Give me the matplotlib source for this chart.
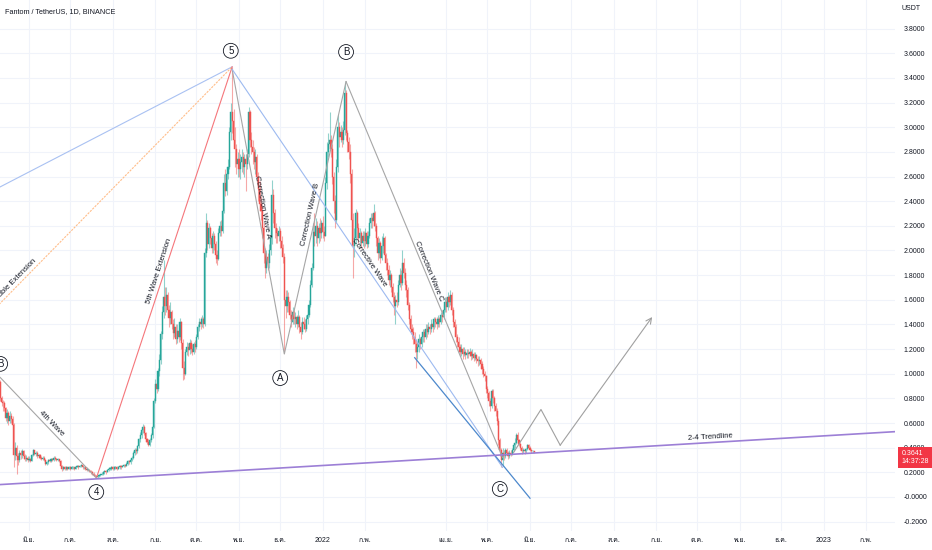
import numpy as np
import pandas as pd
import matplotlib
matplotlib.use("Agg")
import matplotlib.pyplot as plt
import matplotlib.dates as mdates
from matplotlib import font_manager
from matplotlib.ft2font import FT2Font

# ---- daily candles FTM/USDT, first candle 2021-05-11 (open = previous close)
first_open = 0.93
closes_2021_05 = [0.80, 0.77, 0.76, 0.72, 0.64, 0.68, 0.62, 0.66, 0.63, 0.58, 0.34, 0.40, 0.33, 0.30, 0.36, 0.34, 0.37, 0.33, 0.31, 0.32, 0.30]
highs_2021_05 = [0.95, 0.82, 0.79, 0.78, 0.73, 0.71, 0.70, 0.70, 0.68, 0.66, 0.60, 0.45, 0.42, 0.36, 0.38, 0.38, 0.39, 0.38, 0.35, 0.34, 0.33]
lows_2021_05 = [0.78, 0.74, 0.70, 0.70, 0.62, 0.60, 0.58, 0.60, 0.60, 0.55, 0.24, 0.30, 0.19, 0.26, 0.28, 0.31, 0.32, 0.31, 0.29, 0.29, 0.28]

closes_2021_06 = [0.31, 0.29, 0.34, 0.38, 0.35, 0.36, 0.33, 0.34, 0.32, 0.31, 0.32, 0.30, 0.27, 0.28, 0.30, 0.29, 0.31, 0.30, 0.32, 0.31, 0.30, 0.31, 0.29, 0.25, 0.23, 0.24, 0.23, 0.24, 0.23, 0.24]
highs_2021_06 = [0.33, 0.32, 0.35, 0.39, 0.38, 0.37, 0.37, 0.35, 0.35, 0.33, 0.33, 0.33, 0.31, 0.29, 0.31, 0.31, 0.32, 0.32, 0.33, 0.33, 0.32, 0.32, 0.31, 0.30, 0.26, 0.25, 0.25, 0.25, 0.24, 0.25]
lows_2021_06 = [0.29, 0.28, 0.29, 0.33, 0.34, 0.33, 0.32, 0.32, 0.31, 0.30, 0.30, 0.29, 0.26, 0.26, 0.27, 0.28, 0.28, 0.29, 0.29, 0.30, 0.29, 0.29, 0.28, 0.24, 0.21, 0.22, 0.22, 0.22, 0.22, 0.23]

closes_2021_07 = [0.23, 0.24, 0.24, 0.23, 0.24, 0.25, 0.24, 0.25, 0.26, 0.24, 0.24, 0.23, 0.22, 0.22, 0.21, 0.20, 0.19, 0.18, 0.17, 0.16, 0.17, 0.18, 0.18, 0.19, 0.20, 0.21, 0.20, 0.22, 0.23, 0.23, 0.24]
highs_2021_07 = [0.25, 0.25, 0.25, 0.24, 0.25, 0.26, 0.26, 0.26, 0.27, 0.26, 0.25, 0.25, 0.24, 0.23, 0.22, 0.22, 0.21, 0.20, 0.19, 0.18, 0.18, 0.19, 0.19, 0.20, 0.21, 0.22, 0.22, 0.23, 0.24, 0.24, 0.25]
lows_2021_07 = [0.22, 0.23, 0.23, 0.22, 0.23, 0.24, 0.23, 0.24, 0.24, 0.23, 0.23, 0.22, 0.21, 0.21, 0.20, 0.19, 0.18, 0.17, 0.16, 0.15, 0.15, 0.16, 0.17, 0.18, 0.18, 0.19, 0.19, 0.20, 0.21, 0.22, 0.22]

closes_2021_08 = [0.23, 0.24, 0.24, 0.23, 0.24, 0.25, 0.24, 0.25, 0.26, 0.25, 0.27, 0.29, 0.28, 0.30, 0.32, 0.36, 0.38, 0.37, 0.41, 0.47, 0.50, 0.54, 0.57, 0.52, 0.47, 0.45, 0.42, 0.46, 0.50, 0.57, 0.78]
highs_2021_08 = [0.25, 0.25, 0.25, 0.25, 0.25, 0.26, 0.26, 0.26, 0.27, 0.27, 0.28, 0.30, 0.30, 0.31, 0.33, 0.37, 0.40, 0.40, 0.42, 0.48, 0.53, 0.56, 0.59, 0.58, 0.53, 0.48, 0.47, 0.48, 0.52, 0.58, 0.80]
lows_2021_08 = [0.22, 0.22, 0.23, 0.22, 0.23, 0.23, 0.23, 0.24, 0.24, 0.24, 0.25, 0.26, 0.27, 0.27, 0.29, 0.31, 0.34, 0.35, 0.36, 0.40, 0.45, 0.48, 0.52, 0.50, 0.45, 0.43, 0.41, 0.41, 0.45, 0.48, 0.56]

closes_2021_09 = [0.92, 0.88, 1.02, 1.11, 1.32, 1.50, 1.62, 1.55, 1.64, 1.52, 1.45, 1.50, 1.40, 1.33, 1.38, 1.28, 1.35, 1.30, 1.42, 1.25, 1.05, 1.00, 1.18, 1.22, 1.19, 1.25, 1.20, 1.18, 1.24, 1.22]
highs_2021_09 = [0.96, 0.97, 1.05, 1.16, 1.35, 1.55, 1.92, 1.70, 1.70, 1.66, 1.56, 1.58, 1.52, 1.44, 1.45, 1.40, 1.40, 1.37, 1.45, 1.43, 1.28, 1.10, 1.20, 1.26, 1.25, 1.28, 1.27, 1.24, 1.26, 1.27]
lows_2021_09 = [0.76, 0.84, 0.86, 0.98, 1.08, 1.28, 1.45, 1.48, 1.50, 1.47, 1.38, 1.40, 1.36, 1.28, 1.30, 1.24, 1.25, 1.26, 1.27, 1.20, 0.95, 0.96, 0.99, 1.15, 1.14, 1.16, 1.17, 1.15, 1.16, 1.18]

closes_2021_10 = [1.30, 1.38, 1.42, 1.40, 1.44, 1.40, 1.98, 2.22, 2.05, 2.18, 2.10, 2.02, 2.12, 2.05, 1.96, 1.93, 2.14, 2.20, 2.16, 2.32, 2.55, 2.48, 2.62, 2.68, 2.96, 3.12, 3.05, 2.90, 2.82, 2.70, 2.74]
highs_2021_10 = [1.32, 1.40, 1.45, 1.46, 1.48, 1.46, 2.02, 2.30, 2.25, 2.22, 2.20, 2.14, 2.16, 2.14, 2.08, 2.00, 2.18, 2.24, 2.25, 2.36, 2.62, 2.66, 2.68, 2.74, 3.00, 3.20, 3.49, 3.15, 3.00, 2.86, 2.80]
lows_2021_10 = [1.20, 1.28, 1.35, 1.36, 1.38, 1.37, 1.39, 1.95, 2.00, 2.02, 2.05, 1.98, 1.98, 2.00, 1.90, 1.88, 1.92, 2.12, 2.12, 2.14, 2.30, 2.44, 2.45, 2.58, 2.66, 2.90, 2.95, 2.85, 2.68, 2.62, 2.60]

closes_2021_11 = [2.66, 2.72, 2.76, 2.68, 2.74, 2.70, 2.78, 3.12, 2.90, 2.84, 2.80, 2.72, 2.76, 2.60, 2.50, 2.38, 2.32, 2.18, 1.98, 1.86, 1.95, 1.90, 2.00, 2.10, 2.45, 2.30, 2.18, 2.14, 2.12, 2.16]
highs_2021_11 = [2.82, 2.78, 2.82, 2.80, 2.78, 2.78, 2.82, 3.16, 3.14, 2.96, 2.90, 2.84, 2.82, 2.78, 2.64, 2.56, 2.44, 2.36, 2.22, 2.02, 2.00, 1.98, 2.05, 2.15, 2.57, 2.50, 2.34, 2.22, 2.18, 2.20]
lows_2021_11 = [2.60, 2.58, 2.64, 2.62, 2.60, 2.48, 2.66, 2.76, 2.84, 2.78, 2.70, 2.66, 2.62, 2.55, 2.40, 2.32, 2.25, 2.10, 1.90, 1.78, 1.82, 1.84, 1.86, 1.96, 2.05, 2.22, 2.10, 2.06, 2.06, 2.08]

closes_2021_12 = [2.08, 2.02, 1.95, 1.60, 1.55, 1.62, 1.58, 1.48, 1.42, 1.50, 1.44, 1.46, 1.40, 1.46, 1.38, 1.34, 1.42, 1.40, 1.36, 1.44, 1.48, 1.56, 1.72, 1.86, 2.15, 2.12, 2.20, 2.10, 2.18, 2.14, 2.22]
highs_2021_12 = [2.18, 2.12, 2.05, 1.98, 1.68, 1.68, 1.66, 1.60, 1.52, 1.54, 1.52, 1.50, 1.48, 1.52, 1.48, 1.42, 1.46, 1.46, 1.44, 1.48, 1.52, 1.60, 1.76, 1.90, 2.22, 2.30, 2.26, 2.24, 2.22, 2.26, 2.25]
lows_2021_12 = [2.02, 1.96, 1.90, 1.17, 1.45, 1.50, 1.50, 1.44, 1.38, 1.40, 1.40, 1.38, 1.36, 1.38, 1.33, 1.28, 1.32, 1.36, 1.34, 1.35, 1.40, 1.46, 1.54, 1.70, 1.84, 2.04, 2.06, 2.04, 2.06, 2.08, 2.10]

closes_2022_01 = [2.15, 2.12, 2.55, 2.80, 2.86, 2.90, 2.82, 2.60, 2.40, 2.25, 2.68, 3.00, 2.92, 2.96, 2.90, 2.98, 3.28, 2.95, 2.88, 2.80, 2.62, 2.25, 2.04, 2.10, 2.30, 2.18, 2.10, 2.14, 2.06, 2.12, 2.08]
highs_2022_01 = [2.28, 2.20, 2.60, 2.88, 2.95, 3.12, 2.94, 2.86, 2.64, 2.45, 2.74, 3.10, 3.04, 3.02, 3.00, 3.05, 3.37, 3.30, 2.98, 2.92, 2.86, 2.66, 2.30, 2.18, 2.34, 2.32, 2.22, 2.18, 2.16, 2.16, 2.16]
lows_2022_01 = [2.10, 2.08, 2.12, 2.50, 2.76, 2.82, 2.76, 2.54, 2.30, 2.18, 2.22, 2.64, 2.84, 2.88, 2.84, 2.86, 2.94, 2.90, 2.80, 2.74, 2.55, 2.20, 1.78, 1.95, 2.05, 2.10, 2.06, 2.04, 2.02, 2.04, 2.02]

closes_2022_02 = [2.14, 2.05, 2.12, 2.22, 2.26, 2.24, 2.30, 2.20, 2.10, 1.98, 2.06, 1.94, 2.04, 2.10, 1.96, 1.90, 1.84, 1.76, 1.80, 1.70, 1.62, 1.55, 1.60, 1.58, 1.72, 1.80, 1.74, 1.90]
highs_2022_02 = [2.18, 2.16, 2.16, 2.26, 2.30, 2.30, 2.38, 2.32, 2.22, 2.12, 2.10, 2.08, 2.12, 2.14, 2.12, 1.98, 1.94, 1.88, 1.84, 1.82, 1.74, 1.66, 1.64, 1.66, 1.76, 1.86, 1.84, 2.00]
lows_2022_02 = [2.04, 2.02, 2.03, 2.10, 2.18, 2.18, 2.20, 2.16, 2.04, 1.92, 1.94, 1.90, 1.92, 1.98, 1.92, 1.84, 1.80, 1.72, 1.70, 1.66, 1.58, 1.48, 1.40, 1.54, 1.56, 1.70, 1.68, 1.72]

closes_2022_03 = [1.82, 1.72, 1.68, 1.56, 1.44, 1.36, 1.34, 1.30, 1.24, 1.18, 1.22, 1.28, 1.24, 1.30, 1.34, 1.30, 1.36, 1.34, 1.38, 1.36, 1.40, 1.38, 1.44, 1.42, 1.40, 1.44, 1.42, 1.48, 1.46, 1.52, 1.58]
highs_2022_03 = [1.94, 1.86, 1.76, 1.70, 1.58, 1.48, 1.40, 1.38, 1.34, 1.28, 1.26, 1.32, 1.30, 1.34, 1.36, 1.36, 1.40, 1.40, 1.42, 1.40, 1.44, 1.42, 1.46, 1.46, 1.46, 1.48, 1.46, 1.50, 1.52, 1.56, 1.62]
lows_2022_03 = [1.78, 1.68, 1.62, 1.52, 1.40, 1.32, 1.28, 1.24, 1.18, 1.05, 1.12, 1.18, 1.20, 1.22, 1.26, 1.26, 1.28, 1.30, 1.32, 1.32, 1.34, 1.34, 1.36, 1.38, 1.36, 1.38, 1.38, 1.40, 1.42, 1.44, 1.50]

closes_2022_04 = [1.54, 1.62, 1.58, 1.64, 1.52, 1.42, 1.38, 1.30, 1.26, 1.22, 1.18, 1.20, 1.16, 1.18, 1.15, 1.17, 1.16, 1.18, 1.14, 1.16, 1.13, 1.15, 1.12, 1.10, 1.11, 1.08, 1.04, 1.00, 0.98, 0.88]
highs_2022_04 = [1.62, 1.66, 1.64, 1.68, 1.66, 1.54, 1.44, 1.40, 1.32, 1.30, 1.24, 1.24, 1.22, 1.22, 1.20, 1.20, 1.20, 1.21, 1.19, 1.20, 1.18, 1.18, 1.16, 1.14, 1.14, 1.13, 1.10, 1.06, 1.02, 0.99]
lows_2022_04 = [1.50, 1.52, 1.54, 1.56, 1.48, 1.38, 1.32, 1.26, 1.22, 1.18, 1.14, 1.14, 1.12, 1.14, 1.12, 1.13, 1.13, 1.14, 1.11, 1.12, 1.10, 1.11, 1.09, 1.06, 1.07, 1.04, 1.00, 0.97, 0.94, 0.84]

closes_2022_05 = [0.84, 0.78, 0.74, 0.86, 0.80, 0.74, 0.70, 0.62, 0.46, 0.38, 0.30, 0.36, 0.33, 0.38, 0.36, 0.33, 0.36, 0.35, 0.38, 0.42, 0.44, 0.50, 0.46, 0.43, 0.40, 0.37, 0.38, 0.37, 0.39, 0.42, 0.40]
highs_2022_05 = [0.90, 0.86, 0.80, 0.88, 0.88, 0.82, 0.76, 0.72, 0.64, 0.48, 0.40, 0.40, 0.38, 0.40, 0.40, 0.37, 0.38, 0.38, 0.40, 0.44, 0.48, 0.52, 0.53, 0.47, 0.44, 0.41, 0.40, 0.39, 0.40, 0.43, 0.43]
lows_2022_05 = [0.80, 0.74, 0.70, 0.72, 0.76, 0.70, 0.66, 0.58, 0.42, 0.33, 0.24, 0.25, 0.30, 0.32, 0.34, 0.31, 0.32, 0.33, 0.34, 0.37, 0.40, 0.43, 0.44, 0.41, 0.38, 0.35, 0.36, 0.35, 0.36, 0.38, 0.39]

closes_2022_06 = [0.38, 0.37, 0.37, 0.3641]
highs_2022_06 = [0.41, 0.39, 0.38, 0.375]
lows_2022_06 = [0.37, 0.36, 0.36, 0.355]

closes = np.array(closes_2021_05 + closes_2021_06 + closes_2021_07 + closes_2021_08 + closes_2021_09
                  + closes_2021_10 + closes_2021_11 + closes_2021_12 + closes_2022_01 + closes_2022_02
                  + closes_2022_03 + closes_2022_04 + closes_2022_05 + closes_2022_06)
highs = np.array(highs_2021_05 + highs_2021_06 + highs_2021_07 + highs_2021_08 + highs_2021_09
                 + highs_2021_10 + highs_2021_11 + highs_2021_12 + highs_2022_01 + highs_2022_02
                 + highs_2022_03 + highs_2022_04 + highs_2022_05 + highs_2022_06)
lows = np.array(lows_2021_05 + lows_2021_06 + lows_2021_07 + lows_2021_08 + lows_2021_09
                + lows_2021_10 + lows_2021_11 + lows_2021_12 + lows_2022_01 + lows_2022_02
                + lows_2022_03 + lows_2022_04 + lows_2022_05 + lows_2022_06)

# x axis month labels (Thai locale, as in the chart)
tick_dates = ["2021-06-01", "2021-07-01", "2021-08-01", "2021-09-01", "2021-10-01", "2021-11-01",
              "2021-12-01", "2022-01-01", "2022-02-01", "2022-04-01", "2022-05-01", "2022-06-01",
              "2022-07-01", "2022-08-01", "2022-09-01", "2022-10-01", "2022-11-01", "2022-12-01",
              "2023-01-01", "2023-02-01"]
tick_labels = ["มิ.ย.", "ก.ค.", "ส.ค.", "ก.ย.", "ต.ค.", "พ.ย.", "ธ.ค.", "2022", "ก.พ.", "เม.ย.",
               "พ.ค.", "มิ.ย.", "ก.ค.", "ส.ค.", "ก.ย.", "ต.ค.", "พ.ย.", "ธ.ค.", "2023", "ก.พ."]
y_ticks = [-0.2, 0.0, 0.2, 0.4, 0.6, 0.8, 1.0, 1.2, 1.4, 1.6, 1.8, 2.0, 2.2, 2.4, 2.6, 2.8, 3.0, 3.2, 3.4, 3.6, 3.8]

# drawing anchors (date, price)
blue_fan = [("2021-05-10", 2.51), ("2021-10-27", 3.49)]
orange_fan = [("2021-05-10", 1.56), ("2021-10-27", 3.49)]
wave5_ext = [("2021-07-20", 0.15), ("2021-10-27", 3.49)]
wave4 = [("2021-05-11", 0.97), ("2021-07-20", 0.155)]
wave_ab = [("2021-10-27", 3.47), ("2021-12-04", 1.16), ("2022-01-18", 3.37)]
wave_c = [("2022-01-18", 3.37), ("2022-05-12", 0.32)]
corrective = [("2021-10-27", 3.47), ("2022-05-12", 0.24)]
lower_channel = [("2022-03-09", 1.13), ("2022-06-01", -0.01)]
trend_24 = [("2021-05-10", 0.10), ("2023-02-22", 0.53)]
projection = [("2022-05-20", 0.36), ("2022-06-09", 0.71), ("2022-06-23", 0.42), ("2022-08-29", 1.46)]

wave_marks = [("5", "2021-10-26", 3.62), ("B", "2022-01-18", 3.61), ("A", "2021-12-01", 0.965),
              ("4", "2021-07-20", 0.04), ("C", "2022-05-10", 0.065), ("B", "2021-05-11", 1.08)]
line_texts = [("4th Wave", "2021-06-17", 0.60, -45.6),
              ("5th Wave Extension", "2021-09-04", 1.83, 72.0),
              ("Double Extension", "2021-05-21", 1.75, 45.5),
              ("Correction Wave A", "2021-11-18", 2.35, -79.5),
              ("Correction Wave B", "2021-12-23", 2.29, 77.4),
              ("Corrective Wave", "2022-02-04", 1.90, -55.8),
              ("Correction Wave C", "2022-03-19", 1.83, -67.5),
              ("2-4 Trendline", "2022-10-10", 0.487, 3.4)]


def find_thai_font():
    for f in font_manager.fontManager.ttflist:
        try:
            if 0x0E01 in FT2Font(f.fname).get_charmap():
                return f.name
        except Exception:
            pass
    return None


thai = find_thai_font()
families = ["Liberation Sans"] + ([thai] if thai else []) + ["DejaVu Sans"]
plt.rcParams["font.family"] = families

UP = "#26a69a"
DOWN = "#ef5350"
TXT = "#131722"


def d(s):
    return mdates.date2num(pd.Timestamp(s))


def pts(anchors):
    return [d(a) for a, _ in anchors], [p for _, p in anchors]


dates = pd.date_range("2021-05-11", periods=len(closes), freq="D")
x = mdates.date2num(dates)
opens = np.r_[first_open, closes[:-1]]
highs = np.maximum(highs, np.maximum(opens, closes))
lows = np.minimum(lows, np.minimum(opens, closes))
up = closes >= opens
colors = np.where(up, UP, DOWN)

fig = plt.figure(figsize=(9.32, 5.5), dpi=100)
ax = fig.add_axes([0, 19 / 550, 895 / 932, 531 / 550])

ax.vlines(x, lows, highs, colors=colors, linewidth=0.8, alpha=0.5, zorder=2)
ax.bar(x, np.maximum(np.abs(closes - opens), 0.006), bottom=np.minimum(opens, closes),
       width=0.8, color=colors, edgecolor=colors, linewidth=0.3, zorder=3)

# drawings
ax.plot(*pts(blue_fan), color="#a9c1f2", lw=0.8, zorder=4)
ax.plot(*pts(orange_fan), color="#ffbe8a", lw=0.8, ls=(0, (2, 1)), zorder=4)
ax.plot(*pts(wave5_ext), color="#f5767b", lw=0.8, zorder=4)
ax.plot(*pts(wave4), color="#a6a6a6", lw=0.8, zorder=4)
ax.plot(*pts(wave_ab), color="#a6a6a6", lw=0.8, zorder=4)
ax.plot(*pts(wave_c), color="#a6a6a6", lw=0.8, zorder=4)
ax.plot(*pts(corrective), color="#9dbaf0", lw=0.8, zorder=4)
ax.plot(*pts(lower_channel), color="#4c88cc", lw=0.9, zorder=4)
ax.plot(*pts(trend_24), color="#9c7fd6", lw=1.2, zorder=4)
px, py = pts(projection)
ax.plot(px[:-1], py[:-1], color="#a0a0a0", lw=0.8, zorder=4)
ax.annotate("", xy=(px[-1], py[-1]), xytext=(px[-2], py[-2]),
            arrowprops=dict(arrowstyle="->", color="#a0a0a0", lw=0.8, shrinkA=0, shrinkB=0), zorder=4)

for label, ds, price, rot in line_texts:
    ax.text(d(ds), price, label, rotation=rot, rotation_mode="anchor", ha="center", va="center",
            fontsize=5.5, color=TXT, clip_on=True, zorder=5)

for label, ds, price in wave_marks:
    ax.text(d(ds), price, label, ha="center", va="center", fontsize=7, color=TXT, clip_on=True,
            zorder=5, bbox=dict(boxstyle="circle,pad=0.25", fc="white", ec=TXT, lw=0.6))

# axes styling
ax.set_xlim(d("2021-05-10 21:00"), d("2023-02-21 22:00"))
ax.set_ylim(-0.276, 4.032)
ax.set_xticks([d(t) for t in tick_dates])
ax.set_xticklabels(tick_labels)
ax.set_yticks(y_ticks)
ax.set_yticklabels(["-0.0000" if v == 0 else f"{v:.4f}" for v in y_ticks])
ax.yaxis.tick_right()
ax.tick_params(axis="both", length=0, labelsize=5, colors=TXT)
ax.tick_params(axis="y", pad=6)
ax.tick_params(axis="x", pad=4)
ax.grid(True, color="#f0f3fa", lw=0.8)
ax.set_axisbelow(True)
for s in ax.spines.values():
    s.set_visible(False)

# last price tag
ax.annotate(f"{closes[-1]:.4f}\n14:37:28", xy=(1.0, closes[-1]), xycoords=("axes fraction", "data"),
            xytext=(4.5, -4), textcoords="offset points", ha="left", va="center", fontsize=5,
            color="white", linespacing=1.3, annotation_clip=False, zorder=10,
            bbox=dict(boxstyle="square,pad=0.4", fc="#f23645", ec="none"))

fig.text(901 / 932, 1 - 8 / 550, "USDT", fontsize=5, color=TXT, va="center", ha="left")
fig.text(5 / 932, 1 - 12 / 550, "Fantom / TetherUS, 1D, BINANCE", fontsize=5.2, color=TXT,
         va="center", ha="left")

fig.savefig("out.png", dpi=100, facecolor="white")
